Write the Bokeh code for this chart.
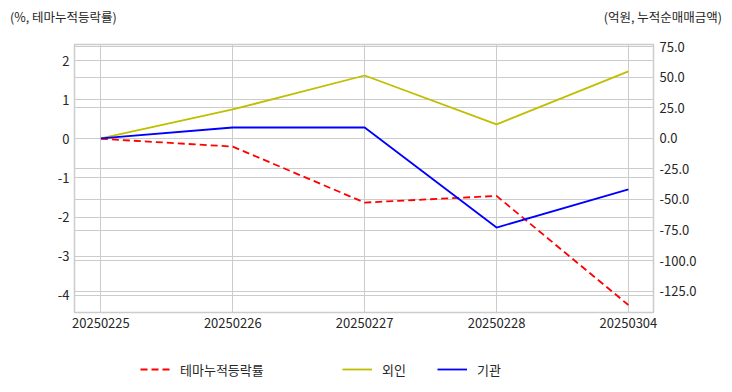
from bokeh.plotting import figure
from bokeh.layouts import column
from bokeh.models import (Range1d, LinearAxis, FixedTicker, Grid, Legend, LegendItem)
from bokeh.embed import file_html
from bokeh.resources import INLINE

dates = ["20250225", "20250226", "20250227", "20250228", "20250304"]
theme_ret = [0.0, -0.2, -1.63, -1.46, -4.25]
foreign = [0.0, 23.8, 51.6, 11.5, 55.0]
inst = [0.0, 9.0, 9.0, -73.0, -41.8]
left_ticks = [-4, -3, -2, -1, 0, 1, 2]
right_ticks = [-125, -100, -75, -50, -25, 0, 25, 50, 75]
series_names = ["테마누적등락률", "외인", "기관"]
left_unit = "(%, 테마누적등락률)"
right_unit = "(억원, 누적순매매금액)"

FONT = "Noto Sans CJK KR"
TXT = "#262626"
GRID = "#cccccc"
RED, YEL, BLU = "#ff0000", "#bfbf00", "#0000ff"
LW = 1.8
DASH = "7 4"
W = 732

def strip(h):
    f = figure(output_backend="svg", toolbar_location=None, frame_width=W, frame_height=h,
               min_border_left=0, min_border_right=0, min_border_top=0, min_border_bottom=0,
               x_axis_location=None, y_axis_location=None,
               x_range=Range1d(0, W), y_range=Range1d(0, h))
    f.grid.visible = False
    f.outline_line_color = None
    f.background_fill_color = "white"
    f.border_fill_color = "white"
    return f

def text_legend(fig, label, rend, location, fsize, gw=0, st=0, **kw):
    lg = Legend(items=[LegendItem(label=label, renderers=[rend])], location=location,
                orientation="horizontal", padding=0, border_line_color=None,
                background_fill_alpha=0, glyph_width=gw, glyph_height=20, label_height=20,
                label_standoff=st, label_text_font=FONT, label_text_font_size=fsize,
                label_text_color=TXT, **kw)
    fig.add_layout(lg, "center")

# ---- top strip with unit texts
top = strip(32)
blank = top.line([-10, -5], [-10, -10], line_alpha=0)
text_legend(top, left_unit, blank, "center_left", "12.5px", margin=10)
text_legend(top, right_unit, blank, "center_right", "12.5px", margin=10)

# ---- main chart
xs = list(range(len(dates)))
p = figure(output_backend="svg", toolbar_location=None,
           frame_width=579, frame_height=268,
           min_border_left=74, min_border_right=79, min_border_top=12, min_border_bottom=28,
           x_range=Range1d(-0.2, 4.19), y_range=Range1d(-4.44, 2.41))
p.background_fill_color = "white"
p.border_fill_color = "white"
p.outline_line_color = GRID
p.outline_line_width = 1.5
p.extra_y_ranges = {"right": Range1d(-142.6, 77.0)}

p.xaxis.ticker = FixedTicker(ticks=xs)
p.xaxis.major_label_overrides = {i: d for i, d in enumerate(dates)}
p.yaxis.ticker = FixedTicker(ticks=left_ticks)
p.yaxis.major_label_overrides = {t: str(t) for t in left_ticks}

rax = LinearAxis(y_range_name="right", ticker=FixedTicker(ticks=right_ticks))
rax.major_label_overrides = {t: "%.1f" % t for t in right_ticks}
p.add_layout(rax, "right")

for ax in [p.xaxis[0], p.yaxis[0], rax]:
    ax.axis_line_color = None
    ax.major_tick_line_color = None
    ax.minor_tick_line_color = None
    ax.major_tick_out = 0
    ax.major_tick_in = 0
    ax.major_label_text_font = FONT
    ax.major_label_text_font_size = "13px"
    ax.major_label_text_color = TXT
    ax.major_label_standoff = 5
rax.major_label_standoff = 6

p.xgrid.grid_line_color = GRID
p.ygrid.grid_line_color = GRID
p.add_layout(Grid(dimension=1, ticker=rax.ticker, y_range_name="right",
                  grid_line_color=GRID, grid_line_width=1))

p.line(xs, theme_ret, line_color=RED, line_width=LW, line_dash=DASH)
p.line(xs, foreign, line_color=YEL, line_width=LW, y_range_name="right")
p.line(xs, inst, line_color=BLU, line_width=LW, y_range_name="right")

# ---- legend strip (swatch renderers sit outside the visible range)
leg = strip(52)
styles = [dict(line_color=RED, line_width=LW, line_dash=DASH),
          dict(line_color=YEL, line_width=LW),
          dict(line_color=BLU, line_width=LW)]
xpos = [140, 342, 437]
for name, st, x in zip(series_names, styles, xpos):
    rr = leg.line([-10, -5], [-10, -10], **st)
    text_legend(leg, name, rr, (x, 13), "13px", gw=30, st=10, margin=0)

layout = column(top, p, leg, spacing=0)
open("out.html", "w").write(file_html(layout, INLINE))
